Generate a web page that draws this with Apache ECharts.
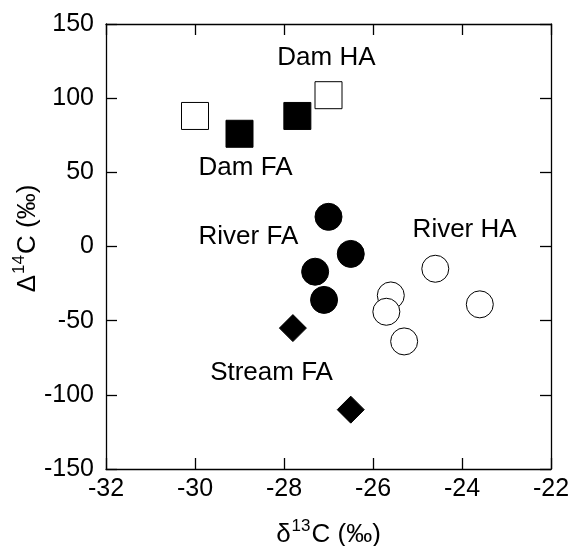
<!DOCTYPE html>
<html>
<head>
<meta charset="utf-8">
<script src="https://cdn.jsdelivr.net/npm/echarts@6/dist/echarts.min.js"></script>
<style>
html,body{margin:0;padding:0;background:#fff}
#chart{width:570px;height:546px}
</style>
</head>
<body>
<div id="chart"></div>
<script>
// δ13C, Δ14C pairs
var damHA = [[-30.0, 88], [-27.0, 102]];
var damFA = [[-29.0, 76], [-27.7, 88]];
var riverFA = [[-27.0, 20], [-26.5, -5], [-27.3, -17], [-27.1, -36]];
var riverHA = [[-24.6, -15], [-25.6, -33], [-25.7, -44], [-25.3, -64], [-23.6, -39]];
var streamFA = [[-27.8, -55], [-26.5, -110]];

// group labels (left edge, vertical centre) in data units
var labelNames = ['Dam HA', 'Dam FA', 'River FA', 'River HA', 'Stream FA'];
var labelPos = [[-28.15, 127], [-29.92, 53], [-29.92, 6.5], [-25.11, 11.3], [-29.66, -85.3]];

var xTicks = [-32, -30, -28, -26, -24, -22];
var yTicks = [-150, -100, -50, 0, 50, 100, 150];

var FONT = '"Liberation Sans", Arial, Helvetica, sans-serif';

var labelData = [];
for (var i = 0; i < labelNames.length; i++) {
	labelData.push({name: labelNames[i], value: labelPos[i]});
}

function axisBase(extra){
	var a = {
		axisLine: {show: true, onZero: false, lineStyle: {color: '#000', width: 1.3}},
		axisTick: {show: true, inside: true, length: 11, lineStyle: {color: '#000', width: 1.3}},
		splitLine: {show: false}
	};
	for (var k in extra) a[k] = extra[k];
	return a;
}

// superscript done by padding the small token at the bottom
var titleRich = {
	d: {fontSize: 26, fontFamily: FONT, color: '#000'},
	s: {fontSize: 17, fontFamily: FONT, color: '#000', padding: [0, 1, 16, 1]}
};

var option = {
	animation: false,
	backgroundColor: '#fff',
	grid: {left: 106, right: 19, top: 24, bottom: 77, show: false, outerBoundsMode: 'none', containLabel: false},
	xAxis: [
		axisBase({
			type: 'value', min: xTicks[0], max: xTicks[xTicks.length-1], interval: 2,
			position: 'bottom',
			axisLabel: {color: '#000', fontSize: 25, fontFamily: FONT, margin: 8},
			name: '{d|δ}{s|13}{d|C (‰)}',
			nameLocation: 'middle', nameGap: 49, nameMoveOverlap: false,
			nameTextStyle: {fontFamily: FONT, color: '#000', rich: titleRich}
		}),
		axisBase({
			type: 'value', min: xTicks[0], max: xTicks[xTicks.length-1], interval: 2,
			position: 'top', axisLabel: {show: false}
		})
	],
	yAxis: [
		axisBase({
			type: 'value', min: yTicks[0], max: yTicks[yTicks.length-1], interval: 50,
			position: 'left',
			axisLabel: {color: '#000', fontSize: 25, fontFamily: FONT, margin: 12},
			name: '{d|Δ}{s|14}{d|C (‰)}',
			nameLocation: 'middle', nameGap: 62, nameRotate: 90, nameMoveOverlap: false,
			nameTextStyle: {fontFamily: FONT, color: '#000', rich: titleRich, padding: [0, 0, 0, 16]}
		}),
		axisBase({
			type: 'value', min: yTicks[0], max: yTicks[yTicks.length-1], interval: 50,
			position: 'right', axisLabel: {show: false}
		})
	],
	series: [
		{
			name: 'Dam HA', type: 'scatter', data: damHA, symbol: 'rect', symbolSize: 27,
			itemStyle: {color: '#fff', borderColor: '#000', borderWidth: 1, opacity: 1}
		},
		{
			name: 'Dam FA', type: 'scatter', data: damFA, symbol: 'rect', symbolSize: 27,
			itemStyle: {color: '#000', borderColor: '#000', borderWidth: 1, opacity: 1}
		},
		{
			name: 'River FA', type: 'scatter', data: riverFA, symbol: 'circle', symbolSize: 27,
			itemStyle: {color: '#000', borderColor: '#000', borderWidth: 1, opacity: 1}
		},
		{
			name: 'River HA', type: 'scatter', data: riverHA, symbol: 'circle', symbolSize: 27,
			itemStyle: {color: '#fff', borderColor: '#000', borderWidth: 1, opacity: 1}
		},
		{
			name: 'Stream FA', type: 'scatter', data: streamFA, symbol: 'diamond', symbolSize: 27,
			itemStyle: {color: '#000', borderColor: '#000', borderWidth: 1, opacity: 1}
		},
		{
			name: 'labels', type: 'scatter', data: labelData, symbolSize: 0, silent: true,
			itemStyle: {opacity: 1},
			label: {
				show: true, position: 'right', distance: 0,
				formatter: '{b}', color: '#000', fontSize: 26, fontFamily: FONT
			}
		}
	]
};

var myChart = echarts.init(document.getElementById('chart'));
myChart.setOption(option);
</script>
</body>
</html>
